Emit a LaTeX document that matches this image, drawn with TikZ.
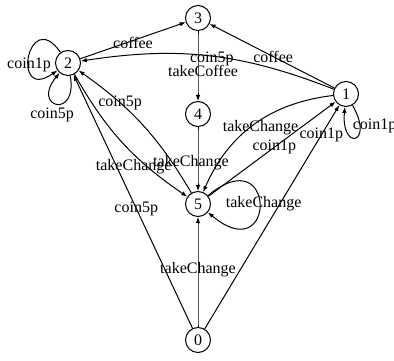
\documentclass[tikz,border=0pt]{standalone}
\usepackage{fontspec}
\setmainfont{Liberation Serif}
\usetikzlibrary{arrows.meta}

\begin{document}
\begin{tikzpicture} [
                x=1pt, y=1pt,
                every node/.style={font=\fontsize{16}{16}\selectfont},
                state/.style={circle,draw,line width=1pt,minimum size=25pt,inner sep=0pt},
                edge/.style = {draw,line width=1pt,-{Latex[length=6pt,width=4.5pt]}},
                lbl/.style = {inner sep=0pt},
                self/.style = {looseness=8,min distance=#1},
            ]
            \useasboundingbox (0,0) rectangle (394,361);
            \foreach \pos/\name in {
                    {(198,21)/0}, {(346,267)/1}, {(68,298)/2}, {(198,343)/3}, {(198,247)/4}, {(198,157)/5}}
                \node[state] (\name) at \pos {\name};
            \foreach \source/ \dest/ \bend/ \p/ \dx/ \dy/ \txt in {
                    2/3/0/.5/0/-2/coffee, 1/3/0/.49/0/0/coffee, 1/2/15/.49/0/-3/coin5p,
                    3/4/0/.58/5/0/takeCoffee, 4/5/0/.56/-7/0/takeChange,
                    2/5/13/.72/-14/0/takeChange, 5/2/12/.7/0/0/coin5p,
                    0/2/0/.47/0/0/coin5p, 0/5/0/.52/0/0/takeChange, 0/1/0/.88/0/0/coin1p,
                    5/1/0/.52/0/0/coin1p, 1/5/30/.45/0/-8/takeChange}
                \path[edge] (\source) edge [bend right=\bend] node[lbl,pos=\p,xshift=\dx,yshift=\dy] {\txt} (\dest);
            % loops
            \path[edge] (5) edge [self=90pt,out=40,in=-40] node[lbl,pos=.5,xshift=4] {takeChange} (5);
            \path[edge] (1) edge [self=45pt,out=-60,in=-95] node[lbl,pos=.5,xshift=19,yshift=12] {coin1p} (1);
            \path[edge] (2) edge [self=42pt,out=125,in=215] node[lbl,pos=.5,xshift=0,yshift=-9] {coin1p} (2);
            \path[edge] (2) edge [self=45pt,out=-80,in=-130] node[lbl,pos=.5,xshift=-5,yshift=-11] {coin5p} (2);
        \end{tikzpicture}
\end{document}
